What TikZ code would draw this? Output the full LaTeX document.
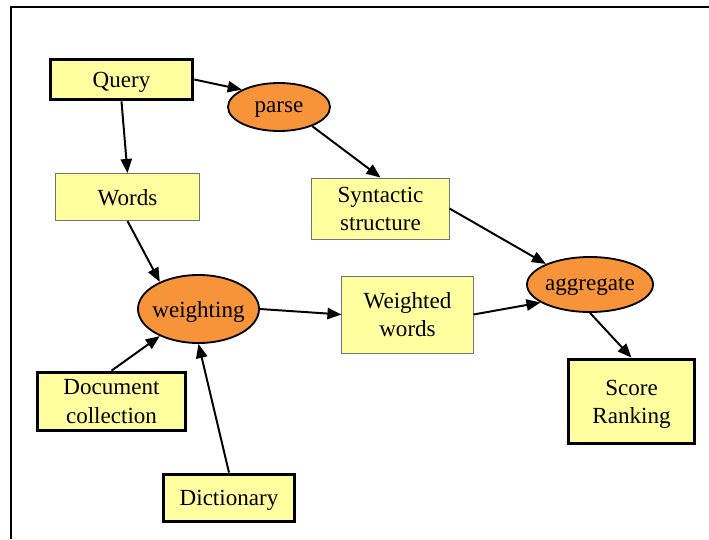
\documentclass[tikz,border=0pt]{standalone}
\usepackage{fontspec}
\setmainfont{Liberation Serif}
\usetikzlibrary{shapes.geometric,arrows.meta}
\definecolor{boxyellow}{RGB}{255,255,160}
\definecolor{ovalorange}{RGB}{247,148,58}

\begin{document}
\begin{tikzpicture}[x=0.025cm,y=-0.025cm,
        every node/.style={font=\fontsize{16.4}{20}\selectfont,align=center,inner sep=0pt,text depth=0pt},
        thinbox/.style={rectangle,draw=black!55,line width=0.7pt,fill=boxyellow},
        thickbox/.style={rectangle,draw=black,line width=2.6pt,fill=boxyellow},
        oval/.style={ellipse,draw=black,line width=1.3pt,fill=ovalorange,inner xsep=-8pt},
        arr/.style={-{Triangle[length=10pt,width=8pt]},line width=1.4pt}]
        \useasboundingbox (0,0) rectangle (709,539);
        \draw[line width=2pt] (11,539) -- (11,7) -- (709,7);
        \node[thickbox,minimum width=3.55cm,minimum height=1.0cm] (A) at (121.5,79.5) {Query};
        \node[oval,minimum width=2.55cm,minimum height=1.2cm] (B) at (279,107) {parse};
        \node[thinbox,minimum width=3.575cm,minimum height=1.175cm] (C) at (127.5,197) {Words};
        \node[thinbox,minimum width=3.425cm,minimum height=1.525cm] (D) at (380.5,208.5) {Syntactic\\structure};
        \node[oval,minimum width=3.025cm,minimum height=1.7cm] (E) at (198.5,309) {weighting};
        \node[thinbox,minimum width=3.275cm,minimum height=1.925cm] (F) at (407.5,314.5) {Weighted\\words};
        \node[oval,minimum width=3.15cm,minimum height=1.375cm] (G) at (590,284.5) {aggregate};
        \node[thickbox,minimum width=3.15cm,minimum height=2.1cm] (H) at (631.5,401.5) {Score\\Ranking};
        \node[thickbox,minimum width=3.7cm,minimum height=1.45cm] (I) at (111.5,401.5) {Document\\collection};
        \node[thickbox,minimum width=3.28cm,minimum height=1.18cm] (J) at (229,498) {Dictionary};
        \draw[arr] (A.east) -- (B.155);
        \draw[arr] (A.south) -- (C.north);
        \draw[arr] (B.-30) -- (D.north);
        \draw[arr] (C.south) -- (E.145);
        \draw[arr] (E.east) -- (F.west);
        \draw[arr] (D.east) -- (G.155);
        \draw[arr] (F.east) -- (G.200);
        \draw[arr] (G.south) -- (H.north);
        \draw[arr] (I.north) -- (E.215);
        \draw[arr] (J.north) -- (E.south);
    \end{tikzpicture}
\end{document}
